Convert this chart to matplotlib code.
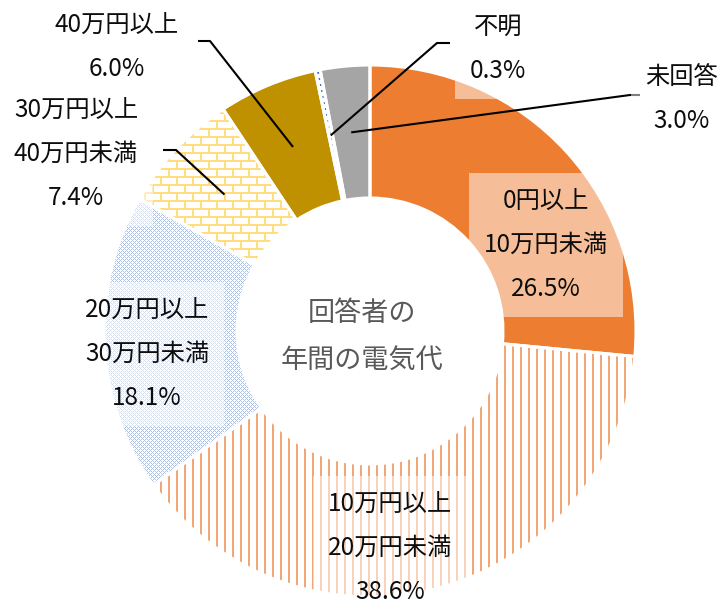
import numpy as np
import matplotlib
matplotlib.use('Agg')
import matplotlib.pyplot as plt

plt.rcParams['font.family'] = ['Noto Sans CJK JP', 'DejaVu Sans']

# data
labels = ['0円以上\n10万円未満', '10万円以上\n20万円未満', '20万円以上\n30万円未満',
          '30万円以上\n40万円未満', '40万円以上', '不明', '未回答']
shares = [26.5, 38.6, 18.1, 7.4, 6.0, 0.3, 3.0]
fills = ['#ED7D31', 'stripe', 'cross', 'brick', '#BF9000', 'dots', '#A5A5A5']

# layout in pixels of the 722x607 picture
W, H = 722, 607
CX, CY, R = 370, 331, 266
label_pos = [(546, 245), (390, 548), (147, 354), (76, 154), (117, 47), (498, 49), (682, 99)]
# elbow and end of the leader lines (None = label sits in the slice)
leader = [None, None, None, ((176, 150), (163, 150)), ((210, 41), (198, 41)),
          ((437, 43), (450, 43)), ((630, 95), (640, 95))]


def to_data(x, y):
    return (x - CX) / R, (CY - y) / R


def texture(kind):
    yy, xx = np.mgrid[0:H, 0:W]
    img = np.ones((H, W, 3))
    if kind == 'stripe':
        mask = (xx % 8) < 2
        col = (241, 166, 118)
    elif kind == 'cross':
        mask = ((xx + yy) % 4 == 0) | ((xx - yy) % 4 == 0)
        col = (172, 193, 230)
    elif kind == 'brick':
        row = yy // 8
        mask = ((yy % 8) < 2) | (((xx + (row % 2) * 8) % 16) < 2)
        col = (255, 220, 125)
    else:
        mask = (yy % 6) < 2
        col = (68, 114, 196)
    img[mask] = np.array(col) / 255.0
    return img


fig = plt.figure(figsize=(W / 100, H / 100), dpi=100)
ax = fig.add_axes([0, 0, 1, 1])

face = [f if f.startswith('#') else 'white' for f in fills]
wedges, _ = ax.pie(shares, startangle=90, counterclock=False, radius=1,
                   colors=face, wedgeprops=dict(width=0.5, linewidth=0))

x0, _ = to_data(0, 0)
x1, _ = to_data(W, 0)
_, y1 = to_data(0, 0)
_, y0 = to_data(0, H)
extent = [x0, x1, y0, y1]

for w, f in zip(wedges, fills):
    if f.startswith('#'):
        continue
    im = ax.imshow(texture(f), extent=extent, origin='upper',
                   interpolation='nearest', zorder=1.5)
    im.set_clip_path(w)

# white separators between slices
ax.pie(shares, startangle=90, counterclock=False, radius=1,
       wedgeprops=dict(width=0.5, facecolor='none', edgecolor='white',
                       linewidth=2.2, zorder=2))

for i, w in enumerate(wedges):
    txt = labels[i] + '\n' + f'{shares[i]:.1f}%'
    tx, ty = to_data(*label_pos[i])
    ax.text(tx, ty, txt, ha='center', va='center', fontsize=17.5,
            linespacing=1.9, color='#0d0d0d', zorder=4,
            bbox=dict(boxstyle='square,pad=0.6', facecolor='white',
                      alpha=0.5, edgecolor='none'))
    if leader[i] is not None:
        mid = np.deg2rad((w.theta1 + w.theta2) / 2)
        ax_, ay_ = 0.75 * np.cos(mid), 0.75 * np.sin(mid)
        ex, ey = to_data(*leader[i][0])
        fx, fy = to_data(*leader[i][1])
        ax.plot([ax_, ex, fx], [ay_, ey, fy], color='black', lw=1.5,
                solid_capstyle='butt', zorder=3)

cx, cy = to_data(362, 337)
ax.text(cx, cy, '回答者の\n年間の電気代', ha='center', va='center',
        fontsize=19.5, linespacing=1.95, color='#595959', zorder=4)

ax.set_xlim(x0, x1)
ax.set_ylim(y0, y1)
ax.set_aspect('equal')
ax.axis('off')

fig.savefig('out.png', dpi=100)
